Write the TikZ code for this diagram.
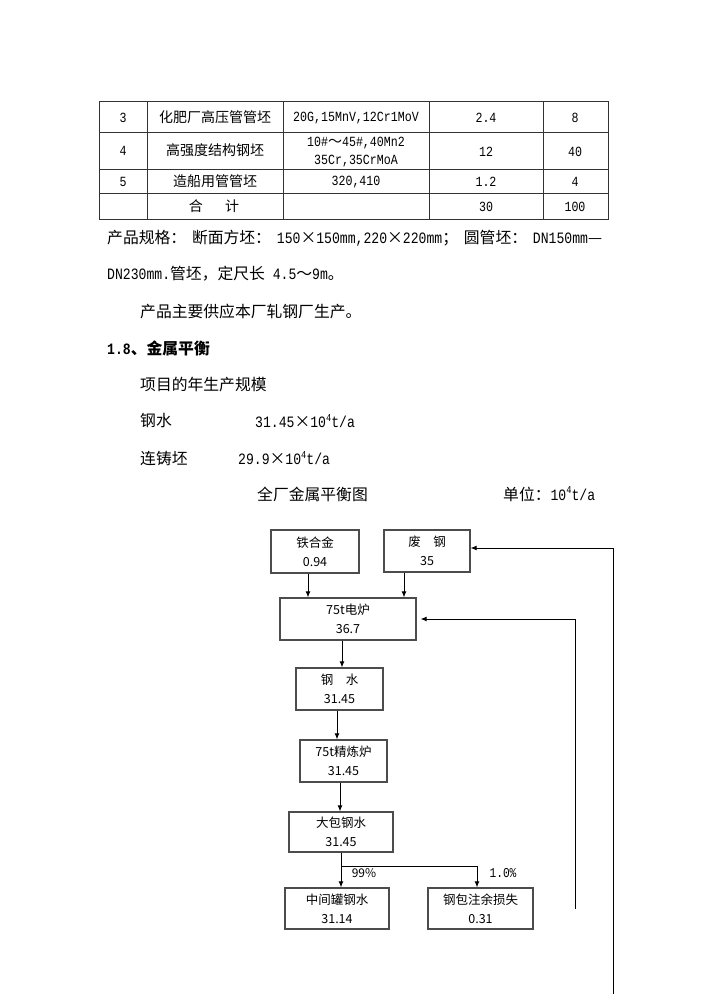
\documentclass[tikz,border=0pt]{standalone}
\usepackage{fontspec}
\setmainfont{Noto Sans CJK SC}
\newfontfamily\mono[FakeStretch=0.83]{Liberation Mono}
\usetikzlibrary{arrows.meta}
\newcommand{\fsz}[2]{\fontsize{#1bp}{#2bp}\selectfont}
\newcommand{\mn}[1]{{\mono #1}}
\newcommand{\supfour}{\raisebox{0.42em}{\fsz{10.5}{10.5}\mono 4}}
\tikzset{
  body/.style={anchor=west, inner sep=0pt, font=\fsz{15.8}{16}},
  cell/.style={inner sep=0pt, align=center, font=\fsz{14}{18}},
  grid/.style={draw=black!80, line width=0.9bp},
  fbox/.style={draw=black!70, line width=1.3bp, inner sep=0pt, align=center, font=\fsz{12.5}{19}},
  arr/.style={draw=black, line width=0.9bp, -{Latex[length=6bp,width=5bp]}},
  ln/.style={draw=black, line width=0.9bp},
  pct/.style={inner sep=0pt, font=\fsz{12}{12}}
}
\begin{document}
\begin{tikzpicture}[x=1bp,y=-1bp]
\useasboundingbox[fill=white] (0,0) rectangle (703,994);

% ---------- table ----------
\draw[grid] (99,101) rectangle (608,219);
\foreach \yy in {132,169,193} \draw[grid] (99,\yy) -- (608,\yy);
\foreach \xx in {147,283,429,543} \draw[grid] (\xx,101) -- (\xx,219);

\node[cell] (r3a) at (123,118) {\mn{3}};
\node[cell] (r3b) at (215,117) {化肥厂高压管管坯};
\node[cell] (r3c) at (356,118) {\mn{20G,15MnV,12Cr1MoV}};
\node[cell] (r3d) at (486,118) {\mn{2.4}};
\node[cell] (r3e) at (575,118) {\mn{8}};

\node[cell] (r4a) at (123,151) {\mn{4}};
\node[cell] (r4b) at (215,150) {高强度结构钢坯};
\node[cell] (r4c1) at (356,143) {\mn{10\#}～\mn{45\#,40Mn2}};
\node[cell] (r4c2) at (356,161) {\mn{35Cr,35CrMoA}};
\node[cell] (r4d) at (486,152) {\mn{12}};
\node[cell] (r4e) at (575,152) {\mn{40}};

\node[cell] (r5a) at (123,182) {\mn{5}};
\node[cell] (r5b) at (215,181) {造船用管管坯};
\node[cell] (r5c) at (356,182) {\mn{320,410}};
\node[cell] (r5d) at (486,182) {\mn{1.2}};
\node[cell] (r5e) at (575,182) {\mn{4}};

\node[cell] (tb) at (214,206) {合\hspace{1.6em}计};
\node[cell] (td) at (486,207) {\mn{30}};
\node[cell] (te) at (575,207) {\mn{100}};

% ---------- body text ----------
\node[body] (t1) at (107,238) {\makebox[495bp][s]{产品规格：\ 断面方坯：\ \mn{150}×\mn{150mm,220}×\mn{220mm}；\ 圆管坯：\ \mn{DN150mm}—}};
\node[body] (t2) at (107,274) {\mn{DN230mm.}管坯，定尺长\mn{ 4.5}～\mn{9m}。};
\node[body] (t3) at (140,311) {产品主要供应本厂轧钢厂生产。};
\node[body] (t4) at (107,348) {\bfseries\mn{1.8}、金属平衡};
\node[body] (t5) at (140,385) {项目的年生产规模};
\node[body] (t6a) at (140,421) {钢水};
\node[body] (t6b) at (255,421) {\mn{31.45}×\mn{10}\supfour\mn{t/a}};
\node[body] (t7a) at (140,458) {连铸坯};
\node[body] (t7b) at (238,458) {\mn{29.9}×\mn{10}\supfour\mn{t/a}};
\node[body] (t8a) at (257,494) {全厂金属平衡图};
\node[body] (t8b) at (503,494) {单位：\mn{10}\supfour\mn{t/a}};

% ---------- flow diagram ----------
\node[fbox, minimum width=88bp, minimum height=43bp] (tiehe) at (315,551.5) {铁合金\\0.94};
\node[fbox, minimum width=86bp, minimum height=42bp] (feigang) at (427,551) {废\hspace{1em}钢\\35};
\node[fbox, minimum width=136bp, minimum height=42bp] (dianlu) at (348,619) {75t电炉\\36.7};
\node[fbox, minimum width=87bp, minimum height=42bp] (gangshui) at (339.5,689) {钢\hspace{1em}水\\31.45};
\node[fbox, minimum width=87bp, minimum height=42bp] (jinglian) at (343.5,761) {75t精炼炉\\31.45};
\node[fbox, minimum width=104bp, minimum height=40bp] (dabao) at (341,832) {大包钢水\\31.45};
\node[fbox, minimum width=104bp, minimum height=41bp] (zjg) at (337,908.5) {中间罐钢水\\31.14};
\node[fbox, minimum width=105bp, minimum height=41bp] (sunshi) at (480.5,908.5) {钢包注余损失\\0.31};

\coordinate (xa) at (308,0);
\coordinate (xb) at (404,0);
\coordinate (xc) at (342,0);
\coordinate (xd) at (337,0);
\coordinate (xe) at (340,0);
\coordinate (split) at (341,866);
\coordinate (xf) at (477,0);
\coordinate (fb1) at (613,994);
\coordinate (fb1t) at (613,548);
\coordinate (fb2) at (575,909);

\draw[arr] (tiehe.south -| xa) -- (dianlu.north -| xa);
\draw[arr] (feigang.south -| xb) -- (dianlu.north -| xb);
\draw[arr] (dianlu.south -| xc) -- (gangshui.north -| xc);
\draw[arr] (gangshui.south -| xd) -- (jinglian.north -| xd);
\draw[arr] (jinglian.south -| xe) -- (dabao.north -| xe);
\draw[ln] (dabao.south -| split) -- (split);
\draw[arr] (split) -- (zjg.north -| split);
\draw[arr] (split) -| (sunshi.north -| xf);
\draw[arr] (fb1) -- (fb1t) -- (feigang.east |- fb1t);
\draw[arr, shorten >=4bp] (fb2) |- (dianlu.east);

\node[pct] (p99) at (364,873) {99\%};
\node[pct, font=\fsz{13.5}{14}] (p1) at (503,873) {\mn{1.0\%}};
\end{tikzpicture}
\end{document}
